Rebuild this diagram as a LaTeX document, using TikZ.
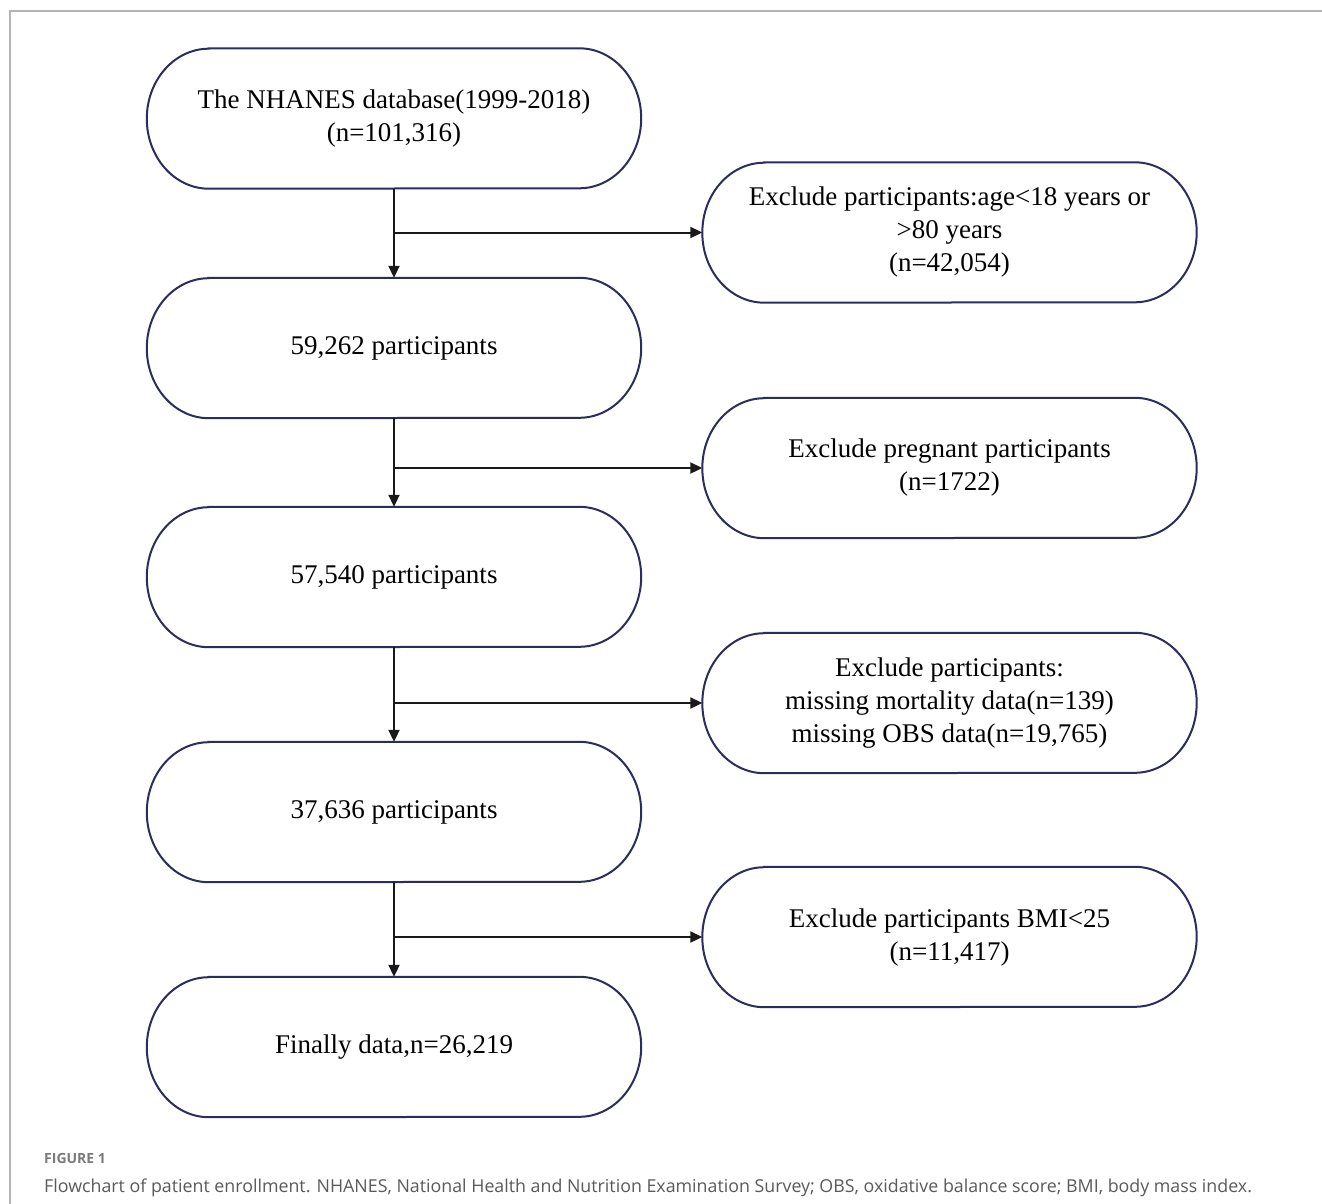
\documentclass[tikz,border=0pt]{standalone}
\usepackage{fontspec}
\setmainfont{Liberation Serif}
\newfontfamily\capfont{Open Sans}
\usetikzlibrary{arrows.meta}
\definecolor{boxline}{HTML}{2B2D5A}
\definecolor{framegray}{HTML}{B4B4B4}
\definecolor{capgray}{HTML}{5A5A5A}
\definecolor{figgray}{HTML}{7A7A7A}
\tikzset{
  stadium/.style={rectangle, draw=none, inner sep=0pt,
    minimum width=494pt, minimum height=140pt, align=center,
    font=\fontsize{27}{33}\selectfont},
  stadline/.style={draw=boxline, line width=2pt},
  arr/.style={draw=black!90, line width=2pt, -{Triangle[length=12pt,width=11pt]}}
}
\begin{document}
\begin{tikzpicture}[x=1pt,y=1pt]
\useasboundingbox (0,0) rectangle (1322,-1204);
\fill[white] (0,0) rectangle (1322,-1204);
\draw[framegray, line width=1.5pt] (10,-1204) -- (10,-11) -- (1322,-11);

\node[stadium] (b1) at (394,-118.5) {The NHANES database(1999-2018)\\(n=101,316)};
\node[stadium] (b2) at (394,-348) {59,262 participants};
\node[stadium] (b3) at (394,-577) {57,540 participants};
\node[stadium] (b4) at (394,-812) {37,636 participants};
\node[stadium] (b5) at (394,-1047) {Finally data,n=26,219};

\node[stadium] (r1) at (949.5,-232.5) {Exclude participants:age<18 years or\\>80 years\\(n=42,054)};
\node[stadium] (r2) at (949.5,-468) {Exclude pregnant participants\\(n=1722)};
\node[stadium] (r3) at (949.5,-703) {Exclude participants:\\missing mortality data(n=139)\\missing OBS data(n=19,765)};
\node[stadium] (r4) at (949.5,-937) {Exclude participants BMI<25\\(n=11,417)};

\foreach \n in {b1,b2,b3,b4,b5,r1,r2,r3,r4}{
  \draw[stadline] ([xshift=62pt]\n.north west) -- ([xshift=-62pt]\n.north east)
    arc[start angle=90, end angle=-90, x radius=62pt, y radius=70pt]
    -- ([xshift=62pt]\n.south west)
    arc[start angle=270, end angle=90, x radius=62pt, y radius=70pt]
    -- cycle;
}

\draw[arr] (b1) -- (b2);
\draw[arr] (b2) -- (b3);
\draw[arr] (b3) -- (b4);
\draw[arr] (b4) -- (b5);

\draw[arr] (b1.south |- r1.west) -- (r1.west);
\draw[arr] (b2.south |- r2.west) -- (r2.west);
\draw[arr] (b3.south |- r3.west) -- (r3.west);
\draw[arr] (b4.south |- r4.west) -- (r4.west);

\node[anchor=west, inner sep=0pt, text=figgray, font=\capfont\bfseries\fontsize{14}{16}\selectfont] (figlabel) at (44,-1158) {FIGURE 1};
\node[anchor=west, inner sep=0pt, text=capgray, font=\capfont\fontsize{17.8}{20}\selectfont] (caption) at (44,-1188) {Flowchart of patient enrollment. NHANES, National Health and Nutrition Examination Survey; OBS, oxidative balance score; BMI, body mass index.};
\end{tikzpicture}
\end{document}
